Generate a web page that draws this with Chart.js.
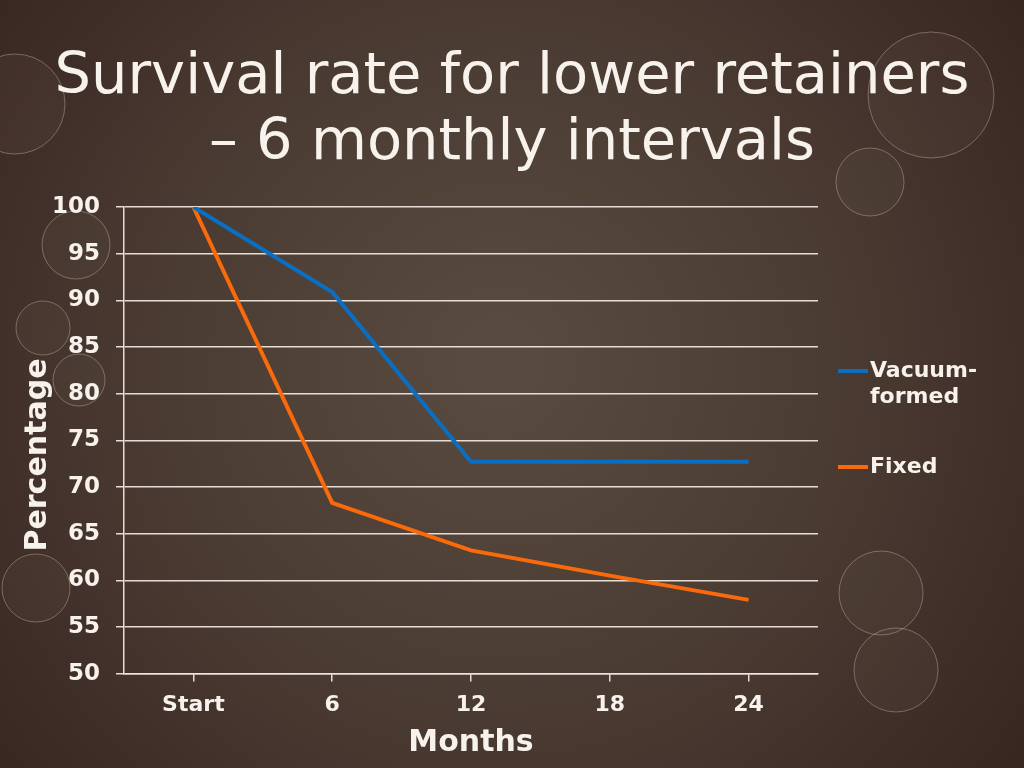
<!DOCTYPE html>
<html>
<head>
<meta charset="utf-8">
<title>Survival rate for lower retainers</title>
<script src="https://cdn.jsdelivr.net/npm/chart.js@4/dist/chart.umd.min.js"></script>
<style>
  html, body { margin: 0; padding: 0; background: #3e2c27; }
  #wrap { width: 1024px; height: 768px; }
</style>
</head>
<body>
<div id="wrap"><canvas id="survivalChart" width="1024" height="768"></canvas></div>
<script>
// Chart data
const months = ['Start', '6', '12', '18', '24'];
const vacuumFormed = [100, 90.9, 72.7, 72.7, 72.7];
const fixedRetainer = [100, 68.3, 63.2, 60.5, 57.9];
const seriesNames = [['Vacuum-', 'formed'], ['Fixed']];
const titleLines = ['Survival rate for lower retainers', '\u2013 6 monthly intervals'];
const yAxisTitle = 'Percentage';
const xAxisTitle = 'Months';

const white = '#f7f2ec';
const gridColor = 'rgba(238, 230, 222, 0.95)';

// slide background with the decorative circles
const slideBackground = {
    id: 'slideBackground',
    beforeDraw(chart) {
        const ctx = chart.ctx;
        const w = chart.width, h = chart.height;
        ctx.save();
        const grad = ctx.createRadialGradient(500, 360, 30, 500, 380, 700);
        grad.addColorStop(0, '#584a3f');
        grad.addColorStop(0.45, '#4b3c33');
        grad.addColorStop(1, '#35221e');
        ctx.fillStyle = grad;
        ctx.fillRect(0, 0, w, h);

        const circles = [
            [15, 104, 50], [76, 245, 34], [43, 328, 27], [79, 380, 26],
            [36, 588, 34], [931, 95, 63], [870, 182, 34],
            [881, 593, 42], [896, 670, 42]
        ];
        circles.forEach(c => {
            ctx.beginPath();
            ctx.arc(c[0], c[1], c[2], 0, Math.PI * 2);
            ctx.fillStyle = 'rgba(255, 240, 225, 0.03)';
            ctx.fill();
            ctx.lineWidth = 1;
            ctx.strokeStyle = 'rgba(210, 190, 175, 0.4)';
            ctx.stroke();
        });
        ctx.restore();
    }
};

// title, y axis title and legend drawn on the slide
const slideText = {
    id: 'slideText',
    afterDraw(chart) {
        const ctx = chart.ctx;
        ctx.save();
        ctx.fillStyle = white;
        ctx.textAlign = 'center';
        ctx.textBaseline = 'alphabetic';
        ctx.font = '57.5px "DejaVu Sans"';
        ctx.fillText(titleLines[0], 512, 93);
        ctx.fillText(titleLines[1], 512, 159);

        // y axis title, a bit below the middle like the slide
        ctx.save();
        ctx.translate(38, 455);
        ctx.rotate(-Math.PI / 2);
        ctx.textBaseline = 'middle';
        ctx.font = 'bold 30px "DejaVu Sans"';
        ctx.fillText(yAxisTitle, 0, 0);
        ctx.restore();

        // legend
        ctx.textAlign = 'left';
        ctx.textBaseline = 'middle';
        ctx.font = 'bold 22px "DejaVu Sans"';
        const legendY = [371, 467];
        chart.data.datasets.forEach((ds, i) => {
            const y = legendY[i];
            ctx.strokeStyle = ds.borderColor;
            ctx.lineWidth = 4;
            ctx.beginPath();
            ctx.moveTo(838, y);
            ctx.lineTo(868, y);
            ctx.stroke();
            seriesNames[i].forEach((line, j) => {
                ctx.fillText(line, 870, y + j * 26);
            });
        });
        ctx.restore();
    }
};

const ctx = document.getElementById('survivalChart').getContext('2d');
new Chart(ctx, {
    type: 'line',
    data: {
        labels: months,
        datasets: [{
            label: 'Vacuum-formed',
            data: vacuumFormed,
            borderColor: '#0a6fc2',
            borderWidth: 4,
            pointRadius: 0,
            tension: 0
        }, {
            label: 'Fixed',
            data: fixedRetainer,
            borderColor: '#fb6a0a',
            borderWidth: 4,
            pointRadius: 0,
            tension: 0
        }]
    },
    options: {
        responsive: false,
        animation: false,
        layout: {
            padding: { top: 207, right: 206, bottom: 10, left: 20 }
        },
        plugins: {
            legend: { display: false },
            title: { display: false },
            tooltip: { enabled: false }
        },
        scales: {
            x: {
                offset: true,
                grid: {
                    drawOnChartArea: false,
                    drawTicks: true,
                    tickLength: 8,
                    color: gridColor,
                    lineWidth: 1.5
                },
                border: { color: gridColor, width: 1.5 },
                ticks: {
                    color: white,
                    font: { family: 'DejaVu Sans', size: 22, weight: 'bold' },
                    padding: 10,
                    maxRotation: 0
                },
                title: {
                    display: true,
                    text: xAxisTitle,
                    color: white,
                    font: { family: 'DejaVu Sans', size: 30, weight: 'bold', lineHeight: 1 },
                    padding: { top: 0, bottom: 0 }
                }
            },
            y: {
                min: 50,
                max: 100,
                afterFit(scale) {
                    scale.width = 104;
                },
                ticks: {
                    stepSize: 5,
                    color: white,
                    font: { family: 'DejaVu Sans', size: 23, weight: 'bold' },
                    padding: 16
                },
                grid: {
                    color: gridColor,
                    lineWidth: 1.5,
                    tickLength: 8
                },
                border: { color: gridColor, width: 1.5 }
            }
        }
    },
    plugins: [slideBackground, slideText]
});
</script>
</body>
</html>
